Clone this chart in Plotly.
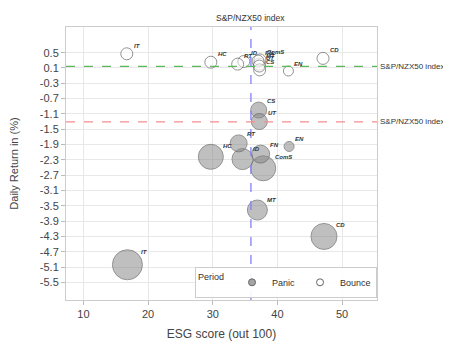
import plotly.graph_objects as go

sectors = ["IT", "CD", "MT", "ComS", "HC", "ID", "FN", "RT", "CS", "UT", "EN"]
panic_esg = [16.8, 47.2, 36.9, 37.8, 29.7, 34.6, 37.4, 34.0, 37.1, 37.2, 41.8]
panic_ret = [-5.04, -4.30, -3.61, -2.52, -2.22, -2.28, -2.15, -1.87, -1.00, -1.30, -1.95]
panic_size = [30, 26, 20, 25, 25, 21, 18, 17, 16, 16, 10]

bounce_esg = [16.7, 47.05, 37.2, 37.3, 29.7, 34.8, 37.0, 33.85, 37.25, 37.2, 41.7]
bounce_ret = [0.47, 0.35, 0.20, 0.31, 0.25, 0.27, 0.28, 0.20, 0.05, 0.15, 0.02]
bounce_size = [12, 12, 12, 12, 12, 12, 12, 12, 12, 12, 10]

index_esg = 35.9
index_bounce = 0.14
index_panic = -1.31
index_label = "S&P/NZX50 index"

y_ticks = [0.5, 0.1, -0.3, -0.7, -1.1, -1.5, -1.9, -2.3, -2.7, -3.1, -3.5, -3.9, -4.3, -4.7, -5.1, -5.5]
x_ticks = [10, 20, 30, 40, 50]

FONT = "Liberation Sans, Arial, sans-serif"
lab_font = dict(family=FONT, size=6, color="#333", weight="bold", style="italic")

PANIC_FILL = "rgba(135,135,135,0.75)"
BOUNCE_FILL = "rgba(255,255,255,0.6)"
EDGE = "#666"

fig = go.Figure()
fig.add_trace(go.Scatter(
    x=panic_esg, y=panic_ret, mode="markers", name="Panic", showlegend=False,
    marker=dict(size=panic_size, sizemode="diameter", color=PANIC_FILL,
                line=dict(color=EDGE, width=1)),
))
fig.add_trace(go.Scatter(
    x=bounce_esg, y=bounce_ret, mode="markers", name="Bounce", showlegend=False,
    marker=dict(size=bounce_size, sizemode="diameter", color=BOUNCE_FILL,
                line=dict(color=EDGE, width=1)),
))
# legend entries
fig.add_trace(go.Scatter(x=[None], y=[None], mode="markers", name="Panic",
                         marker=dict(size=7, color=PANIC_FILL, line=dict(color=EDGE, width=1))))
fig.add_trace(go.Scatter(x=[None], y=[None], mode="markers", name="Bounce",
                         marker=dict(size=7, color="white", line=dict(color=EDGE, width=1))))

# sector labels at upper right of each bubble
for xs, ys, ss in [(panic_esg, panic_ret, panic_size), (bounce_esg, bounce_ret, bounce_size)]:
    for name, xv, yv, sv in zip(sectors, xs, ys, ss):
        r = sv / 2
        fig.add_annotation(x=xv, y=yv, text=name, showarrow=False,
                           xanchor="left", yanchor="bottom",
                           xshift=0.8 * r, yshift=0.5 * r,
                           font=lab_font)

fig.add_hline(y=index_bounce, line=dict(color="#5cb85c", dash="dash", width=1.3))
fig.add_hline(y=index_panic, line=dict(color="#f29090", dash="dash", width=1.3))
fig.add_vline(x=index_esg, line=dict(color="#8080f7", dash="dash", width=1.3))

for yy in [index_bounce, index_panic]:
    fig.add_annotation(x=1, xref="paper", xanchor="left", xshift=1, y=yy, yref="y",
                       text=index_label, showarrow=False,
                       font=dict(family=FONT, size=8, color="#333"))
fig.add_annotation(x=index_esg, xref="x", y=1, yref="paper", yanchor="bottom", yshift=2,
                   text=index_label, showarrow=False,
                   font=dict(family=FONT, size=8.5, color="#333"))

# the page body adds an 8px offset, so the figure is sized to fit the window
fig.update_layout(
    width=443, height=335,
    margin=dict(l=58, r=74, t=19, b=43),
    paper_bgcolor="white", plot_bgcolor="white",
    font=dict(family=FONT, color="#444"),
    legend=dict(
        orientation="h", x=1, xanchor="right", y=0.008, yanchor="bottom",
        title=dict(text="Period", side="left", font=dict(size=9, color="#333")),
        font=dict(size=9, color="#333"), bordercolor="#ccc", borderwidth=1,
        bgcolor="rgba(255,255,255,0.9)",
        itemwidth=30, tracegroupgap=0,
    ),
    showlegend=True,
)
fig.update_xaxes(
    range=[7.3, 55.4], tickvals=x_ticks, ticks="outside", ticklen=4, tickcolor="#bbb",
    showgrid=True, gridcolor="#e8e8e8", zeroline=False,
    showline=True, mirror=True, linecolor="#ccc", linewidth=1,
    tickfont=dict(size=11, color="#444"), automargin=False,
    title=dict(text="ESG score (out 100)", font=dict(size=12, color="#444"), standoff=10),
)
fig.update_yaxes(
    range=[-5.96, 1.17], tickvals=y_ticks, ticktext=[str(v) for v in y_ticks],
    ticks="outside", ticklen=4, tickcolor="#bbb",
    showgrid=True, gridcolor="#e8e8e8", zeroline=False,
    showline=True, mirror=True, linecolor="#ccc", linewidth=1,
    tickfont=dict(size=11, color="#444"), automargin=False,
    title=dict(text="Daily Return in (%)", font=dict(size=11, color="#444"), standoff=20),
)

fig.write_html("out.html")
